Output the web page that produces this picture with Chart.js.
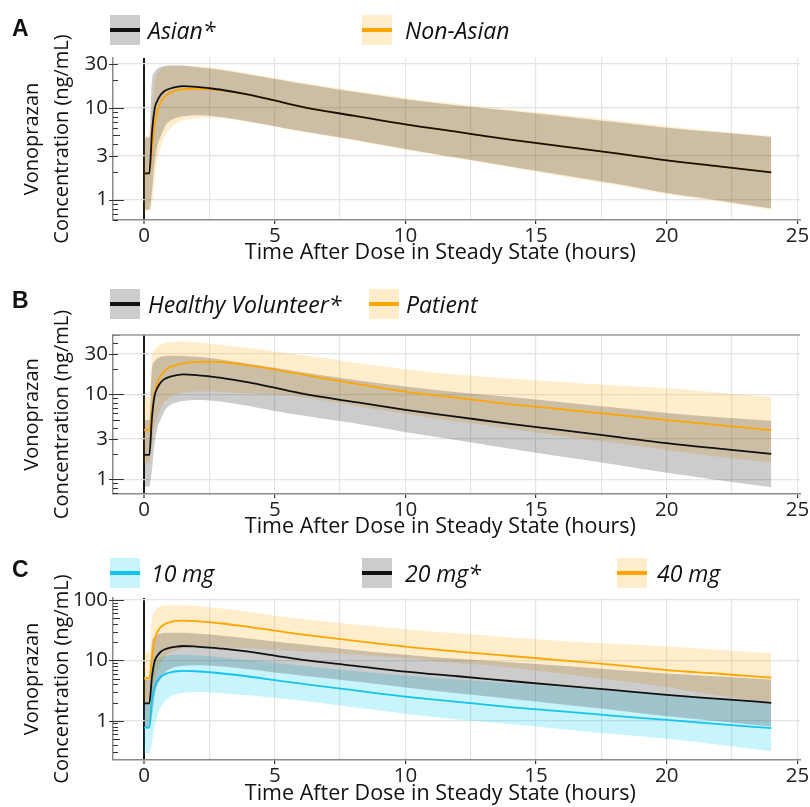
<!DOCTYPE html>
<html><head><meta charset="utf-8">
<script src="https://cdn.jsdelivr.net/npm/chart.js@4/dist/chart.umd.min.js"></script>
<style>
body{margin:0;background:#fff;font-family:'Open Sans',sans-serif;}
#wrap{position:relative;width:810px;height:807px;overflow:hidden;background:#fff;}
canvas{position:absolute;left:0;}
.lbl{position:absolute;font-weight:bold;font-size:23px;line-height:23px;color:#111;font-family:'Liberation Sans',Arial,sans-serif;}
.key{position:absolute;width:30px;height:30px;}
.key i{position:absolute;left:0;right:0;top:13px;height:4px;}
.ltxt{position:absolute;font-style:italic;font-size:23px;color:#111;line-height:30px;white-space:nowrap;}
</style></head>
<body>
<div id="wrap">
  <canvas id="cA" width="810" height="268" style="top:0px"></canvas>
  <canvas id="cB" width="810" height="272" style="top:270px"></canvas>
  <canvas id="cC" width="810" height="265" style="top:542px"></canvas>

  <div class="lbl" style="left:12px;top:17px">A</div>
  <div class="key" style="left:110px;top:15px;background:#cccccc"><i style="background:#111"></i></div>
  <div class="ltxt" style="left:148px;top:15px">Asian*</div>
  <div class="key" style="left:362px;top:15px;background:#ffedcc"><i style="background:#ffa500"></i></div>
  <div class="ltxt" style="left:405px;top:15px">Non-Asian</div>

  <div class="lbl" style="left:12px;top:289px">B</div>
  <div class="key" style="left:110px;top:289px;background:#cccccc"><i style="background:#111"></i></div>
  <div class="ltxt" style="left:148px;top:289px">Healthy Volunteer*</div>
  <div class="key" style="left:369px;top:289px;background:#ffedcc"><i style="background:#ffa500"></i></div>
  <div class="ltxt" style="left:406px;top:289px">Patient</div>

  <div class="lbl" style="left:12px;top:558px">C</div>
  <div class="key" style="left:110px;top:558px;background:#c8f4fd"><i style="background:#13c4ee"></i></div>
  <div class="ltxt" style="left:151px;top:558px">10 mg</div>
  <div class="key" style="left:362px;top:558px;background:#cccccc"><i style="background:#111"></i></div>
  <div class="ltxt" style="left:405px;top:558px">20 mg*</div>
  <div class="key" style="left:617px;top:558px;background:#ffedcc"><i style="background:#ffa500"></i></div>
  <div class="ltxt" style="left:657px;top:558px">40 mg</div>
</div>
<script>
// ---------- data ----------
const hours = [0, 0.2, 0.3, 0.4, 0.5, 0.65, 0.8, 1, 1.25, 1.5, 2, 2.5, 3, 4, 5, 6, 8, 10, 12, 14, 16, 18, 20, 22, 24];
const xGridTicks = [0, 2.5, 5, 7.5, 10, 12.5, 15, 17.5, 20, 22.5, 25];
const xLabelTicks = [0, 5, 10, 15, 20, 25];
const yTicksAB = [1, 3, 10, 30];
const yTicksC = [1, 10, 100];

// Panel A
const asianMed   = [1.93,1.93,5.3,9.6,11.8,14.0,15.3,16.2,16.9,17.2,16.9,16.3,15.6,13.9,12.0,10.3,8.2,6.6,5.45,4.5,3.8,3.2,2.67,2.3,1.98];
const asianUpper = [4.75,4.75,20,24.5,26.5,27.8,28.6,28.8,28.8,28.6,27.8,26.8,25.6,23.0,20.6,18.4,14.9,12.4,10.6,9.3,8.1,7.0,6.07,5.4,4.8];
const asianLower = [0.78,0.78,1.2,2.5,3.8,5.0,6.3,7.2,7.8,8.1,8.3,8.2,7.9,7.1,6.3,5.6,4.5,3.56,2.85,2.3,1.85,1.5,1.18,0.98,0.8];
const nonAsianMed   = [1.93,1.93,3.5,6.5,9.0,11.6,13.3,14.6,15.5,15.9,16.1,15.9,15.4,13.9,12.0,10.3,8.2,6.6,5.45,4.52,3.8,3.2,2.68,2.3,2.0];
const nonAsianUpper = [4.9,4.9,10,18,23,26.5,28,28.6,28.9,28.9,28.3,27.4,26.3,23.6,21.1,18.9,15.4,12.8,11.0,9.6,8.4,7.3,6.3,5.5,4.9];
const nonAsianLower = [0.75,0.75,0.9,1.6,2.6,3.8,5.0,6.0,6.8,7.3,7.7,7.8,7.7,7.0,6.2,5.5,4.4,3.5,2.8,2.25,1.8,1.45,1.15,0.95,0.78];

// Panel B
const hvMed   = [1.95,1.95,5.3,9.6,11.8,14.0,15.3,16.2,16.9,17.2,16.9,16.3,15.6,13.9,12.0,10.3,8.2,6.6,5.45,4.5,3.8,3.2,2.67,2.3,2.0];
const hvUpper = [5.0,5.0,20,24.5,26.5,27.8,28.4,28.6,28.6,28.4,27.7,26.8,25.6,23.0,20.6,18.4,14.9,12.4,10.6,9.3,8.1,7.0,6.07,5.4,4.9];
const hvLower = [0.82,0.82,1.3,2.6,3.9,5.2,6.5,7.5,8.1,8.4,8.6,8.5,8.2,7.3,6.4,5.7,4.6,3.6,2.9,2.3,1.85,1.5,1.2,0.98,0.81];
const patientMed   = [3.82,3.82,6.5,10.5,13.5,16.8,19.2,21.0,22.3,23.2,24.2,24.3,23.9,22.0,19.6,17.3,13.5,10.8,9.1,7.7,6.7,5.8,5.0,4.35,3.82];
const patientUpper = [9.3,9.3,28,33,36.5,38.5,40,41,41.8,41.8,41,39.8,38.2,35.2,32.0,29.2,23.8,19.8,17.0,15.4,14.0,12.8,11.8,10.5,9.3];
const patientLower = [1.55,1.55,2.5,4.0,5.5,7.0,8.3,9.3,10.0,10.5,10.8,10.8,10.7,10.3,9.9,9.3,7.4,5.9,4.8,3.95,3.25,2.7,2.22,1.85,1.58];

// Panel C
const mg10Med   = [0.77,0.77,2.2,3.6,4.5,5.4,5.9,6.3,6.6,6.7,6.6,6.35,6.05,5.4,4.7,4.1,3.2,2.5,2.05,1.68,1.43,1.2,1.03,0.88,0.75];
const mg10Upper = [2.0,2.0,6.5,9.0,10.3,11.3,11.9,12.2,12.4,12.4,12.1,11.7,11.2,10.1,9.1,8.2,6.7,5.6,4.8,4.2,3.6,3.1,2.65,2.25,1.9];
const mg10Lower = [0.29,0.29,0.45,0.8,1.2,1.7,2.1,2.5,2.75,2.9,3.0,2.95,2.85,2.65,2.4,2.15,1.67,1.3,1.05,0.88,0.72,0.6,0.5,0.4,0.31];
const mg20Med   = [1.94,1.94,5.3,9.6,11.8,14.0,15.3,16.2,16.9,17.3,16.9,16.3,15.6,13.9,12.0,10.3,8.2,6.5,5.45,4.55,3.8,3.2,2.67,2.3,1.98];
const mg20Upper = [4.75,4.75,20,24.5,26.5,27.8,28.6,28.8,28.8,28.6,27.8,26.8,25.6,23.0,20.6,18.4,14.9,12.4,10.6,9.3,8.1,7.0,6.07,5.4,4.8];
const mg20Lower = [0.78,0.78,1.2,2.5,3.8,5.0,6.3,7.2,7.8,8.1,8.3,8.2,7.9,7.1,6.3,5.6,4.5,3.56,2.85,2.3,1.85,1.5,1.18,0.98,0.8];
const mg40Med   = [5.05,5.05,11,21,29,36,40,43,45,45.5,44.8,43.0,40.8,36.0,31.0,27.0,21.2,16.9,14.0,11.8,10.0,8.4,6.9,6.0,5.16];
const mg40Upper = [13.9,13.9,50,64,73,79,82,83,83,82,79.5,76,72,63,55,49,39.5,32.8,28,24,21,18.8,16.9,14.9,13.1];
const mg40Lower = [2.0,2.0,2.8,4.5,6.5,9,11.5,13.5,15,16,16.5,16.5,16.3,15.8,15.0,14.2,12.5,10.8,9.0,7.6,6.0,4.7,3.6,2.6,1.95];

// ---------- styles ----------
const GRAY_BAND = 'rgba(0,0,0,0.2)';
const ORANGE_BAND = 'rgba(255,165,0,0.2)';
const CYAN_BAND = 'rgba(0,205,245,0.22)';
const BLACK = '#111111', ORANGE = '#ffa500', CYAN = '#13c4ee';

Chart.defaults.font.family = "'Open Sans', sans-serif";
Chart.defaults.color = '#222';

const pts = arr => hours.map((h, i) => ({x: h, y: arr[i]}));

const logTicks = {
  id: 'logTicks',
  afterDraw(chart, args, opts) {
    const y = chart.scales.y, ctx = chart.ctx, a = chart.chartArea;
    ctx.save();
    ctx.strokeStyle = '#333'; ctx.lineWidth = 1;
    const line = (x1, y1, x2, y2) => { ctx.beginPath(); ctx.moveTo(x1, y1); ctx.lineTo(x2, y2); ctx.stroke(); };
    for (let e = -1; e <= 2; e++) {
      for (let d = 1; d <= 9; d++) {
        const v = d * Math.pow(10, e);
        if (v < y.min || v > y.max) continue;
        const p = Math.round(y.getPixelForValue(v)) + 0.5;
        const len = d === 1 ? 11 : (d === 5 ? 7 : 5);
        line(a.left, p, a.left + len, p);
      }
    }
    (opts.major || []).forEach(v => {
      const p = Math.round(y.getPixelForValue(v)) + 0.5;
      line(a.left - 4, p, a.left, p);
    });
    if (opts.topBorder) {
      ctx.strokeStyle = '#9a9a9a'; ctx.lineWidth = 1.5;
      line(a.left, a.top, a.right, a.top);
    }
    ctx.restore();
  }
};

function makePanel(id, height, areaTop, areaBottom, yMin, yMax, yTicks, series, topBorder, titlePad) {
  const datasets = [];
  series.forEach(s => {
    datasets.push({data: pts(s.lo), borderColor: 'transparent', borderWidth: 0, pointRadius: 0, fill: false, cubicInterpolationMode: 'monotone'});
    datasets.push({data: pts(s.up), borderColor: 'transparent', borderWidth: 0, pointRadius: 0, fill: '-1', backgroundColor: s.band, cubicInterpolationMode: 'monotone'});
  });
  series.slice().sort((a, b) => a.lineOrder - b.lineOrder).forEach(s => {
    datasets.push({data: pts(s.med), borderColor: s.line, borderWidth: 1.8, pointRadius: 0, fill: false, cubicInterpolationMode: 'monotone'});
  });
  const n = datasets.length;
  datasets.forEach((d, i) => { d.order = n - i; });

  new Chart(document.getElementById(id), {
    type: 'line',
    data: {datasets},
    plugins: [logTicks],
    options: {
      responsive: false, animation: false, events: [],
      layout: {padding: {top: areaTop, right: 10, left: 0, bottom: 0}},
      plugins: {legend: {display: false}, tooltip: {enabled: false},
                logTicks: {major: yTicks, topBorder: topBorder}},
      scales: {
        x: {
          type: 'linear', min: -1.19, max: 25.1,
          afterBuildTicks: s => { s.ticks = xGridTicks.map(v => ({value: v})); },
          afterFit: s => { s.height = height - areaBottom; },
          grid: {
            color: c => (c.tick && c.tick.value === 0) ? '#1a1a1a' : '#e4e4e4',
            lineWidth: c => (c.tick && c.tick.value === 0) ? 2 : 1.2,
            drawTicks: true, tickLength: 4, tickWidth: 1.2,
            tickColor: c => (c.tick && xLabelTicks.includes(c.tick.value)) ? '#333' : 'rgba(0,0,0,0)'
          },
          border: {color: '#8a8a8a', width: 1.5},
          ticks: {autoSkip: false, maxRotation: 0, padding: 0, font: {size: 20.5}, color: '#222',
                  callback: v => xLabelTicks.includes(v) ? String(v) : ''},
          title: {display: true, text: 'Time After Dose in Steady State (hours)\u2003\u2002', font: {size: 21.5}, color: '#111',
                  padding: {top: 0, bottom: titlePad}}
        },
        y: {
          type: 'logarithmic', min: yMin, max: yMax,
          afterBuildTicks: s => { s.ticks = yTicks.map(v => ({value: v})); },
          afterFit: s => { s.width = 113; },
          grid: {color: '#e4e4e4', lineWidth: 1.2, drawTicks: false},
          border: {color: '#8a8a8a', width: 1.5},
          ticks: {padding: 5, font: {size: 20.5}, color: '#222', callback: v => String(v)},
          title: {display: true, text: ['Vonoprazan', 'Concentration (ng/mL)'], font: {size: 20, lineHeight: 1.5}, color: '#111',
                  padding: {top: 17, bottom: 0}}
        }
      }
    }
  });
}

makePanel('cA', 268, 58, 220, 0.638, 34.8, yTicksAB, [
  {lo: nonAsianLower, up: nonAsianUpper, med: nonAsianMed, band: ORANGE_BAND, line: ORANGE, lineOrder: 1},
  {lo: asianLower, up: asianUpper, med: asianMed, band: GRAY_BAND, line: BLACK, lineOrder: 2}
], false, 2);

makePanel('cB', 272, 65, 224, 0.675, 50, yTicksAB, [
  {lo: patientLower, up: patientUpper, med: patientMed, band: ORANGE_BAND, line: ORANGE, lineOrder: 1},
  {lo: hvLower, up: hvUpper, med: hvMed, band: GRAY_BAND, line: BLACK, lineOrder: 2}
], true, 2);

makePanel('cC', 265, 56, 218, 0.223, 108, yTicksC, [
  {lo: mg10Lower, up: mg10Upper, med: mg10Med, band: CYAN_BAND, line: CYAN, lineOrder: 1},
  {lo: mg40Lower, up: mg40Upper, med: mg40Med, band: ORANGE_BAND, line: ORANGE, lineOrder: 2},
  {lo: mg20Lower, up: mg20Upper, med: mg20Med, band: GRAY_BAND, line: BLACK, lineOrder: 3}
], false, 0);
</script>
</body></html>
